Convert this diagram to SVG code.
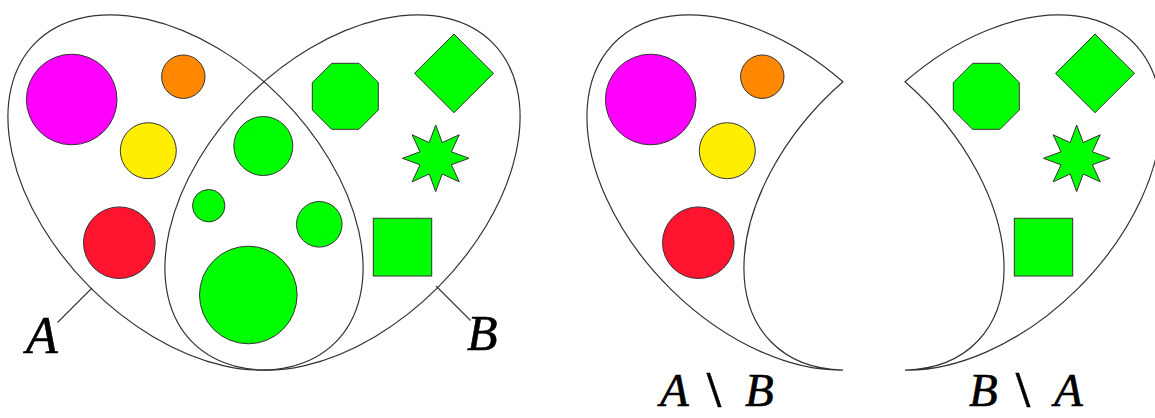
<svg xmlns="http://www.w3.org/2000/svg" xmlns:xlink="http://www.w3.org/1999/xlink" width="1155" height="418" viewBox="0 0 1155 418">
<style>
.outline{fill:none;stroke:#333;stroke-width:1.2}
.item{stroke:#333;stroke-width:1}
.lead{stroke:#333;stroke-width:1.1;fill:none}
.mag{fill:#ff00ff}.org{fill:#ff8800}.yel{fill:#ffee00}.red{fill:#ff1430}.grn{fill:#00ff00}
.lbl{font-family:"Liberation Serif",serif;font-style:italic;fill:#000;stroke:#000;stroke-width:0.6}
.sm{font-family:"Liberation Serif",serif;font-style:normal;font-weight:bold;stroke-width:0.3}
</style>
<defs>
<g id="itemsA">
<circle class="item mag" cx="71.7" cy="99.5" r="45.3"/>
<circle class="item org" cx="183.3" cy="76.7" r="21.7"/>
<circle class="item yel" cx="148.3" cy="150.7" r="28"/>
<circle class="item red" cx="119.3" cy="242.7" r="35.8"/>
</g>
<g id="itemsB">
<polygon class="item grn" points="331.6,63.3 359,63.3 378.3,82.6 378.3,110 359,129.3 331.6,129.3 312.3,110 312.3,82.6"/>
<polygon class="item grn" points="454,34 493.5,73.3 454,112.7 414.5,73.3"/>
<polygon class="item grn" points="435.7,125 442.2,142.6 459.25,134.75 451.4,151.8 469,158.3 451.4,164.8 459.25,181.85 442.2,174 435.7,191.6 429.2,174 412.15,181.85 420,164.8 402.4,158.3 420,151.8 412.15,134.75 429.2,142.6"/>
<rect class="item grn" x="373.3" y="218.3" width="58.4" height="57.7"/>
</g>
</defs>
<g id="setA">
<ellipse class="outline" cx="185.5" cy="192.5" rx="212" ry="134.6" transform="rotate(45 185.5 192.5)"/>
<use xlink:href="#itemsA"/>
</g>
<g id="setB">
<ellipse class="outline" cx="342.5" cy="192.5" rx="212" ry="134.6" transform="rotate(-45 342.5 192.5)"/>
<use xlink:href="#itemsB"/>
</g>
<g id="intersection">
<circle class="item grn" cx="263.3" cy="146" r="29.5"/>
<circle class="item grn" cx="208.7" cy="205.7" r="16.2"/>
<circle class="item grn" cx="319.3" cy="224.3" r="22.8"/>
<circle class="item grn" cx="248.3" cy="295" r="48.8"/>
</g>
<g id="connectors">
<line class="lead" x1="92" y1="288" x2="57.5" y2="322.5"/>
<line class="lead" x1="436" y1="286" x2="470.5" y2="320.5"/>
</g>
<g id="labelA"><text class="lbl" x="26" y="353" font-size="52">A</text></g>
<g id="labelB"><text class="lbl" x="467" y="350" font-size="50">B</text></g>
<g id="diffAB">
<path class="outline" transform="translate(579,0)" d="M264 81.75 A212 134.6 45 1 0 264 370.04 A212 134.6 -45 0 1 264 81.75 Z"/>
<use xlink:href="#itemsA" transform="translate(579,0)"/>
<text class="lbl" y="406" font-size="47"><tspan x="660">A</tspan><tspan class="sm" x="707" font-size="50">\</tspan><tspan x="745">B</tspan></text>
</g>
<g id="diffBA">
<path class="outline" transform="translate(641,0)" d="M264 81.75 A212 134.6 -45 1 1 264 370.04 A212 134.6 45 0 0 264 81.75 Z"/>
<use xlink:href="#itemsB" transform="translate(641,0)"/>
<text class="lbl" y="406" font-size="47"><tspan x="969">B</tspan><tspan class="sm" x="1016" font-size="50">\</tspan><tspan x="1054">A</tspan></text>
</g>
</svg>
